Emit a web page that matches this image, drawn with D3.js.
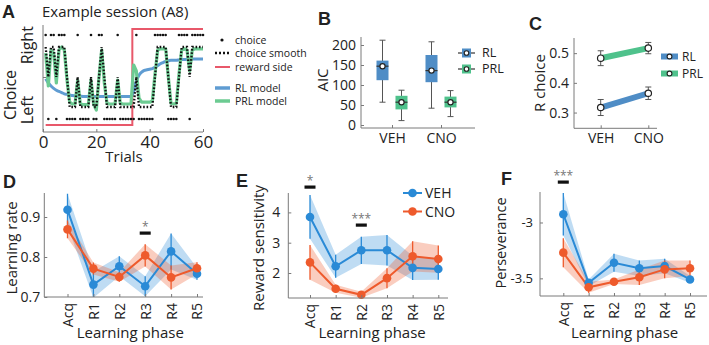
<!DOCTYPE html>
<html><head><meta charset="utf-8">
<script src="https://cdn.jsdelivr.net/npm/d3@7"></script>
<style>
body{margin:0;background:#fff}
text{font-family:'Open Sans',sans-serif;fill:#222}
</style>
</head><body>
<svg id="c" width="709" height="345"></svg>
<script>
// ---------- DATA ----------
// Panel A: example session, trials 1..60 (1 = right, 0 = left)
const trials = d3.range(1, 61);
const choice = [1,0,1,1,0,1,1,1,0,0, 0,0,1,0,0,0,0,1,0,0, 1,1,0,0,0,0,0,1,0,0, 0,0,0,0,1,0,0,0,0,0, 0,1,1,1,1,1,0,0,0,0, 1,1,1,1,0,1,1,1,1,1];
const choiceSmooth = [1,0.5,1,1,0.5,1,1,1,0.5,0, 0,0,0.5,0,0,0,0,0.5,0,0, 0.5,1,0.5,0,0,0,0,0.5,0,0, 0,0,0,0,0.5,0,0,0,0,0, 0,0.5,1,1,1,1,0.5,0,0,0, 0.5,1,1,1,0.5,1,1,1,1,1];
const rewardSide = [0,0,0,0,0,0,0,0,0,0, 0,0,0,0,0,0,0,0,0,0, 0,0,0,0,0,0,0,0,0,0, 0,0,0,1,1,1,1,1,1,1, 1,1,1,1,1,1,1,1,1,1, 1,1,1,1,1,1,1,1,1,1];
const rlModel = [0.47,0.4,0.35,0.31,0.28,0.26,0.24,0.22,0.21,0.2, 0.19,0.185,0.18,0.18,0.175,0.175,0.175,0.175,0.175,0.175, 0.175,0.175,0.175,0.175,0.175,0.175,0.175,0.175,0.175,0.175, 0.175,0.175,0.175,0.26,0.43,0.53,0.58,0.61,0.62,0.63, 0.64,0.66,0.69,0.72,0.74,0.76,0.77,0.78,0.78,0.78, 0.785,0.79,0.79,0.795,0.795,0.8,0.8,0.8,0.8,0.8];
const prlModel = [0.9,0.35,0.95,0.9,0.4,0.95,1.0,0.95,0.45,0.08, 0.05,0.05,0.45,0.05,0.04,0.04,0.04,0.45,0.04,-0.05, 0.5,0.95,0.4,0.06,0.05,0.05,0.05,0.45,0.06,0.05, 0.05,0.05,0.05,0.7,0.6,0.15,0.08,0.08,0.08,0.08, 0.1,0.55,0.95,0.97,0.97,0.97,0.5,0.06,0.05,0.06, 0.55,0.95,0.97,0.95,0.6,0.95,0.97,0.97,0.97,0.97];
const trialTicks = [0, 20, 40, 60];

// Panel B: AIC box plots
const conds = ["VEH", "CNO"];
const models = ["RL", "PRL"];
const aicRLMin = [57, 42], aicRLQ1 = [112, 107], aicRLMed = [147, 136], aicRLQ3 = [161, 175], aicRLMax = [212, 208];
const aicPRLMin = [11, 21], aicPRLQ1 = [39, 44], aicPRLMed = [57, 57], aicPRLQ3 = [73, 71], aicPRLMax = [87, 86];
const aicTicks = [0, 50, 100, 150, 200];

// Panel C: R choice
const rChoiceRL = [0.317, 0.365], rChoiceRLErr = [0.027, 0.021];
const rChoicePRL = [0.483, 0.517], rChoicePRLErr = [0.025, 0.019];
const rChoiceTicks = [0.3, 0.4, 0.5];

// Panels D-F
const phases = ["Acq", "R1", "R2", "R3", "R4", "R5"];
const lrVEH = [0.918, 0.731, 0.777, 0.727, 0.814, 0.758], lrVEHse = [0.04, 0.033, 0.025, 0.025, 0.045, 0.015];
const lrCNO = [0.869, 0.771, 0.750, 0.804, 0.749, 0.772], lrCNOse = [0.022, 0.015, 0.012, 0.028, 0.03, 0.015];
const rsVEH = [3.85, 2.22, 2.75, 2.75, 2.17, 2.13], rsVEHse = [0.72, 0.38, 0.45, 0.5, 0.4, 0.35];
const rsCNO = [2.35, 1.48, 1.28, 1.83, 2.55, 2.46], rsCNOse = [0.57, 0.13, 0.1, 0.33, 0.5, 0.45];
const pvVEH = [-2.926, -3.54, -3.36, -3.41, -3.39, -3.51], pvVEHse = [0.19, 0.03, 0.08, 0.07, 0.065, 0.03];
const pvCNO = [-3.27, -3.58, -3.53, -3.49, -3.42, -3.41], pvCNOse = [0.13, 0.05, 0.02, 0.07, 0.08, 0.07];
const lrTicks = [0.7, 0.8, 0.9], rsTicks = [2, 3, 4], pvTicks = [-3.5, -3];
const sigD = [["R3", "*"]], sigE = [["Acq", "*"], ["R2", "***"]], sigF = [["Acq", "***"]];

// ---------- STYLE ----------
const AXC = "#7a7a7a";
const cRL = "#4f8dc6", cPRL = "#4fc28c";
const cRLa = "#5f9cd2", cPRLa = "#6ccb92", cRed = "#e8586a";
const cVEH = "#2a8ad6", cCNO = "#ee5a2c";

const svg = d3.select("#c");

function letter(t, x, y) {
  svg.append("text").attr("x", x).attr("y", y).attr("font-size", 18).attr("font-weight", 700)
    .style("font-family", "'Liberation Sans',Arial,sans-serif").text(t);
}
function styleAxis(g, fs) {
  g.select(".domain").remove();
  g.selectAll(".tick line").attr("stroke", AXC);
  g.selectAll(".tick text").attr("fill", "#222").attr("font-size", fs).style("font-family", "'Open Sans',sans-serif");
}
function hline(x1, x2, y) { svg.append("line").attr("x1", x1).attr("x2", x2).attr("y1", y).attr("y2", y).attr("stroke", AXC).attr("stroke-width", 1); }
function vline(x, y1, y2) { svg.append("line").attr("x1", x).attr("x2", x).attr("y1", y1).attr("y2", y2).attr("stroke", AXC).attr("stroke-width", 1); }
function rotText(t, x, y, fs) {
  svg.append("text").attr("transform", `translate(${x},${y}) rotate(-90)`).attr("text-anchor", "middle")
    .attr("dominant-baseline", "central").attr("font-size", fs).text(t);
}

// ---------- PANEL A ----------
letter("A", 2, 18);
svg.append("text").attr("x", 42).attr("y", 17).attr("font-size", 15).text("Example session (A8)");
const xA = d3.scaleLinear().domain([0, 60]).range([43, 203]);
const yA = d3.scaleLinear().domain([-0.4167, 1.4]).range([132, 23]);
vline(43, 25, 132); hline(43, 203, 132);
svg.append("g").attr("transform", "translate(0,132)")
  .call(d3.axisBottom(xA).tickValues(trialTicks).tickSizeInner(-3).tickSizeOuter(0).tickPadding(4))
  .call(g => styleAxis(g, 17));
svg.append("g").attr("transform", "translate(43,0)")
  .call(d3.axisLeft(yA).tickValues([0.5]).tickFormat("").tickSizeInner(-3).tickSizeOuter(0))
  .call(g => styleAxis(g, 10));
rotText("Right", 27, yA(1.03), 16);
rotText("Left", 27, yA(-0.05), 16);
rotText("Choice", 10, 95, 16);
svg.append("text").attr("x", 124).attr("y", 162).attr("text-anchor", "middle").attr("font-size", 15).text("Trials");

// reward side
svg.append("path").datum(rewardSide)
  .attr("d", d3.line().curve(d3.curveStep).x((d, i) => xA(trials[i])).y(d => yA(d ? 1.3 : -0.3)))
  .attr("fill", "none").attr("stroke", cRed).attr("stroke-width", 2);
// RL model
svg.append("path").datum(rlModel)
  .attr("d", d3.line().curve(d3.curveMonotoneX).x((d, i) => xA(trials[i])).y(d => yA(d)))
  .attr("fill", "none").attr("stroke", cRLa).attr("stroke-width", 3);
// PRL model
svg.append("path").datum(prlModel)
  .attr("d", d3.line().x((d, i) => xA(trials[i])).y(d => yA(d)))
  .attr("fill", "none").attr("stroke", cPRLa).attr("stroke-width", 3.2).attr("stroke-linejoin", "round");
// choice smooth
svg.append("path").datum(choiceSmooth)
  .attr("d", d3.line().x((d, i) => xA(trials[i])).y(d => yA(d)))
  .attr("fill", "none").attr("stroke", "#111").attr("stroke-width", 2.3).attr("stroke-dasharray", "1.6,1.8");
// choice dots
svg.append("g").selectAll("circle").data(choice).join("circle")
  .attr("cx", (d, i) => xA(trials[i])).attr("cy", d => yA(d ? 1.2 : -0.2)).attr("r", 1.3).attr("fill", "#111");

// legend A
const legA = svg.append("g");
legA.append("circle").attr("cx", 222).attr("cy", 40).attr("r", 1.6).attr("fill", "#111");
legA.append("line").attr("x1", 215).attr("x2", 230).attr("y1", 53).attr("y2", 53).attr("stroke", "#111").attr("stroke-width", 2.5).attr("stroke-dasharray", "2,2");
legA.append("line").attr("x1", 215).attr("x2", 230).attr("y1", 67).attr("y2", 67).attr("stroke", cRed).attr("stroke-width", 2);
legA.append("line").attr("x1", 215).attr("x2", 230).attr("y1", 88).attr("y2", 88).attr("stroke", cRLa).attr("stroke-width", 3.5);
legA.append("line").attr("x1", 215).attr("x2", 230).attr("y1", 101).attr("y2", 101).attr("stroke", cPRLa).attr("stroke-width", 3.5);
[["choice", 40], ["choice smooth", 53], ["reward side", 67], ["RL model", 88], ["PRL model", 101]].forEach(([t, y]) =>
  legA.append("text").attr("x", 235).attr("y", y + 3.8).attr("font-size", 10.5).text(t));

// ---------- PANEL B ----------
letter("B", 318, 25);
const xB = d3.scalePoint().domain(conds).range([392, 441]);
const offB = d3.scalePoint().domain(models).range([-9.5, 9.5]);
const yB = d3.scaleLinear().domain([-7.5, 220]).range([128, 37]);
vline(361, 37, 128); hline(361, 475, 128);
svg.append("g").attr("transform", "translate(361,0)")
  .call(d3.axisLeft(yB).tickValues(aicTicks).tickSizeInner(-3).tickSizeOuter(0).tickPadding(5))
  .call(g => styleAxis(g, 14));
svg.append("g").attr("transform", "translate(0,128)")
  .call(d3.axisBottom(xB).tickSizeInner(-3).tickSizeOuter(0).tickPadding(5))
  .call(g => styleAxis(g, 14));
rotText("AIC", 322, 80, 15);
const boxData = [];
conds.forEach((c, i) => {
  boxData.push({c, m: "RL", mn: aicRLMin[i], q1: aicRLQ1[i], md: aicRLMed[i], q3: aicRLQ3[i], mx: aicRLMax[i], col: cRL});
  boxData.push({c, m: "PRL", mn: aicPRLMin[i], q1: aicPRLQ1[i], md: aicPRLMed[i], q3: aicPRLQ3[i], mx: aicPRLMax[i], col: cPRL});
});
const bw = 12;
boxData.forEach(b => {
  const cx = xB(b.c) + offB(b.m);
  const g = svg.append("g");
  g.append("line").attr("x1", cx).attr("x2", cx).attr("y1", yB(b.mx)).attr("y2", yB(b.mn)).attr("stroke", "#555").attr("stroke-width", 1);
  [b.mx, b.mn].forEach(v => g.append("line").attr("x1", cx - 3).attr("x2", cx + 3).attr("y1", yB(v)).attr("y2", yB(v)).attr("stroke", "#555"));
  g.append("rect").attr("x", cx - bw / 2).attr("width", bw).attr("y", yB(b.q3)).attr("height", yB(b.q1) - yB(b.q3)).attr("fill", b.col);
  g.append("line").attr("x1", cx - bw / 2).attr("x2", cx + bw / 2).attr("y1", yB(b.md)).attr("y2", yB(b.md)).attr("stroke", "#333").attr("stroke-width", 1.2);
  g.append("circle").attr("cx", cx).attr("cy", yB(b.md)).attr("r", 2.6).attr("fill", "#fff").attr("stroke", "#222").attr("stroke-width", 1.2);
});
models.forEach((m, i) => {
  const y = 53 + i * 16, col = m === "RL" ? cRL : cPRL;
  svg.append("line").attr("x1", 458).attr("x2", 475).attr("y1", y).attr("y2", y).attr("stroke", "#333").attr("stroke-width", 1.2);
  svg.append("rect").attr("x", 462).attr("y", y - 4.5).attr("width", 9).attr("height", 9).attr("fill", col);
  svg.append("circle").attr("cx", 466.5).attr("cy", y).attr("r", 2.3).attr("fill", "#fff").attr("stroke", "#222").attr("stroke-width", 1.1);
  svg.append("text").attr("x", 482).attr("y", y + 4.3).attr("font-size", 12.5).text(m);
});

// ---------- PANEL C ----------
letter("C", 529, 30);
const xC = d3.scalePoint().domain(conds).range([600.7, 648.3]);
const yC = d3.scaleLinear().domain([0.247, 0.55]).range([128.3, 38.3]);
vline(574, 38, 128.3); hline(574, 657, 128.3);
svg.append("g").attr("transform", "translate(574,0)")
  .call(d3.axisLeft(yC).tickValues(rChoiceTicks).tickFormat(d3.format(".1f")).tickSizeInner(-3).tickSizeOuter(0).tickPadding(5))
  .call(g => styleAxis(g, 14));
svg.append("g").attr("transform", "translate(0,128.3)")
  .call(d3.axisBottom(xC).tickSizeInner(-3).tickSizeOuter(0).tickPadding(5))
  .call(g => styleAxis(g, 14));
rotText("R choice", 539, 83, 15);
[[rChoicePRL, rChoicePRLErr, cPRL], [rChoiceRL, rChoiceRLErr, cRL]].forEach(([v, e, col]) => {
  svg.append("path").datum(v).attr("d", d3.line().x((d, i) => xC(conds[i])).y(d => yC(d)))
    .attr("stroke", col).attr("stroke-width", 6).attr("fill", "none");
  v.forEach((d, i) => {
    const x = xC(conds[i]);
    svg.append("line").attr("x1", x).attr("x2", x).attr("y1", yC(d - e[i])).attr("y2", yC(d + e[i])).attr("stroke", "#555");
    [d - e[i], d + e[i]].forEach(w => svg.append("line").attr("x1", x - 3).attr("x2", x + 3).attr("y1", yC(w)).attr("y2", yC(w)).attr("stroke", "#555"));
    svg.append("circle").attr("cx", x).attr("cy", yC(d)).attr("r", 3.2).attr("fill", "#fff").attr("stroke", "#222").attr("stroke-width", 1.2);
  });
});
[["RL", cRL, 56.5], ["PRL", cPRL, 73.5]].forEach(([t, col, y]) => {
  svg.append("line").attr("x1", 661).attr("x2", 678).attr("y1", y).attr("y2", y).attr("stroke", col).attr("stroke-width", 6);
  svg.append("circle").attr("cx", 669.5).attr("cy", y).attr("r", 2.4).attr("fill", "#fff").attr("stroke", "#222").attr("stroke-width", 1.1);
  svg.append("text").attr("x", 682).attr("y", y + 4.2).attr("font-size", 12).text(t);
});

// ---------- PANELS D, E, F ----------
function linePanel(cfg) {
  const x = d3.scalePoint().domain(phases).range(cfg.xr);
  const y = d3.scaleLinear().domain(cfg.yd).range([cfg.axY, cfg.topY]);
  const id = "clip" + cfg.name;
  svg.append("clipPath").attr("id", id).append("rect")
    .attr("x", cfg.axX).attr("y", cfg.topY).attr("width", cfg.rightX - cfg.axX).attr("height", cfg.axY - cfg.topY);
  const series = [[cfg.veh, cfg.vehSe, cVEH], [cfg.cno, cfg.cnoSe, cCNO]];
  const plot = svg.append("g").attr("clip-path", `url(#${id})`);
  series.forEach(([v, se, col]) => {
    plot.append("path").datum(v).attr("d", d3.area().x((d, i) => x(phases[i])).y0((d, i) => y(d - se[i])).y1((d, i) => y(d + se[i])))
      .attr("fill", col).attr("opacity", 0.3);
  });
  series.forEach(([v, se, col]) => {
    plot.append("path").datum(v).attr("d", d3.line().x((d, i) => x(phases[i])).y(d => y(d)))
      .attr("fill", "none").attr("stroke", col).attr("stroke-width", 2);
    v.forEach((d, i) => {
      plot.append("line").attr("x1", x(phases[i])).attr("x2", x(phases[i])).attr("y1", y(d - se[i])).attr("y2", y(d + se[i]))
        .attr("stroke", col).attr("stroke-width", 1.3);
    });
  });
  series.forEach(([v, se, col]) => {
    svg.append("g").selectAll("circle").data(v).join("circle")
      .attr("cx", (d, i) => x(phases[i])).attr("cy", d => y(d)).attr("r", 4.3).attr("fill", col);
  });
  vline(cfg.axX, cfg.topY, cfg.axY); hline(cfg.axX, cfg.rightX, cfg.axY);
  svg.append("g").attr("transform", `translate(${cfg.axX},0)`)
    .call(d3.axisLeft(y).tickValues(cfg.ticks).tickFormat(cfg.fmt).tickSizeInner(-3).tickSizeOuter(0).tickPadding(cfg.pad))
    .call(g => styleAxis(g, cfg.tfs));
  svg.append("g").attr("transform", `translate(0,${cfg.axY})`)
    .call(d3.axisBottom(x).tickSizeInner(-3).tickSizeOuter(0))
    .call(g => styleAxis(g, 14))
    .call(g => g.selectAll(".tick text").attr("transform", "rotate(-90)").attr("text-anchor", "end")
      .attr("x", -6).attr("y", 0).attr("dy", "0.35em"));
  rotText(cfg.ylabel, cfg.ylx, cfg.yly, cfg.lfs);
  svg.append("text").attr("x", (cfg.xr[0] + cfg.xr[1]) / 2 - 2).attr("y", 338).attr("text-anchor", "middle").attr("font-size", 15).text("Learning phase");
  cfg.sig.forEach(([p, s], k) => {
    const sy = cfg.sigY[k];
    svg.append("rect").attr("x", x(p) - 5.5).attr("y", sy - 1.5).attr("width", 11).attr("height", 3.2).attr("fill", "#111");
    svg.append("text").attr("x", x(p)).attr("y", sy - 2.5).attr("text-anchor", "middle").attr("font-size", 12)
      .style("fill", "#777").text(s);
  });
  return {x, y};
}

letter("D", 3, 188);
linePanel({name: "D", xr: [67.5, 197], yd: [0.7, 0.96], axY: 297, topY: 193, axX: 44.3, rightX: 203,
  veh: lrVEH, vehSe: lrVEHse, cno: lrCNO, cnoSe: lrCNOse, ticks: lrTicks, fmt: d3.format(".1f"), pad: 4, tfs: 14,
  ylabel: "Learning rate", ylx: 11, yly: 248, lfs: 15, sig: sigD, sigY: [233]});

letter("E", 236, 187);
linePanel({name: "E", xr: [310, 438.3], yd: [1.175, 4.64], axY: 298, topY: 193, axX: 288.3, rightX: 448,
  veh: rsVEH, vehSe: rsVEHse, cno: rsCNO, cnoSe: rsCNOse, ticks: rsTicks, fmt: d3.format("d"), pad: 8, tfs: 14,
  ylabel: "Reward sensitivity", ylx: 258, yly: 248, lfs: 15, sig: sigE, sigY: [187, 225]});
// legend E
[["VEH", cVEH, 193], ["CNO", cCNO, 211.5]].forEach(([t, col, y]) => {
  svg.append("line").attr("x1", 403).attr("x2", 422).attr("y1", y).attr("y2", y).attr("stroke", col).attr("stroke-width", 2);
  svg.append("circle").attr("cx", 412.5).attr("cy", y).attr("r", 4.3).attr("fill", col);
  svg.append("text").attr("x", 425).attr("y", y + 5).attr("font-size", 14).text(t);
});

letter("F", 501, 185);
linePanel({name: "F", xr: [563.3, 690], yd: [-3.658, -2.727], axY: 296, topY: 192, axX: 540, rightX: 707,
  veh: pvVEH, vehSe: pvVEHse, cno: pvCNO, cnoSe: pvCNOse, ticks: pvTicks, fmt: d => String(d), pad: 7, tfs: 13,
  ylabel: "Perseverance", ylx: 500, yly: 243, lfs: 14.5, sig: sigF, sigY: [182]});
</script>
</body></html>
